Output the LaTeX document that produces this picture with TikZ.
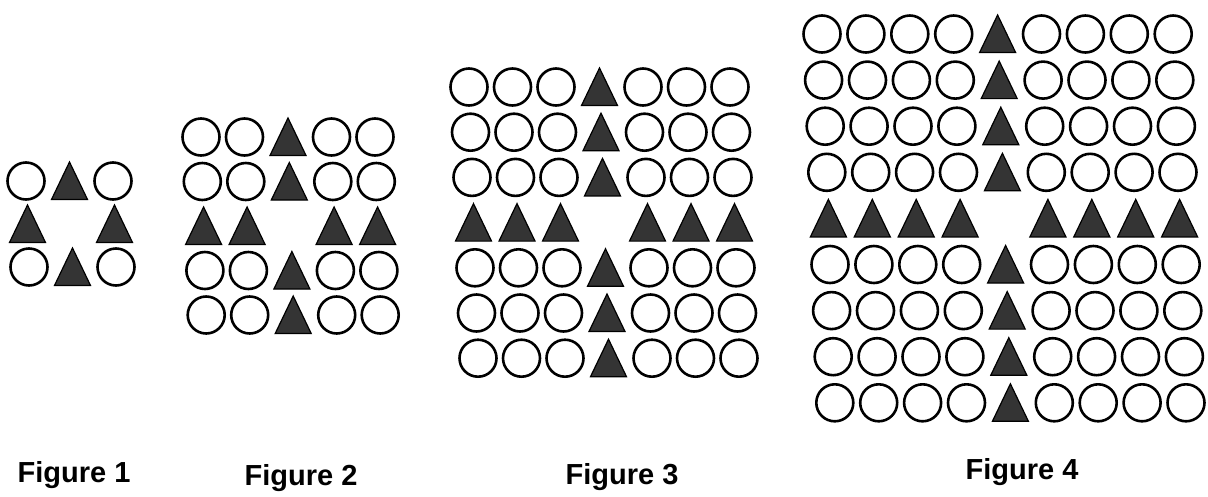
\documentclass[tikz,border=0pt]{standalone}
\usepackage{fontspec}
\setmainfont{Liberation Sans}
\definecolor{trigray}{RGB}{52,52,52}
\tikzset{
  ring/.style={draw=black, line width=2.6pt},
  tri/.style={draw=black, line width=1.2pt, fill=trigray, line join=miter},
  figlabel/.style={font=\bfseries\fontsize{29}{34}\selectfont, anchor=base, inner sep=0pt}
}
% #1 half size n, #2 x0, #3 y0, #4 dx, #5 dy, #6 row shift
\newcommand\patgrid[6]{%
  \pgfmathtruncatemacro\lastidx{2*#1}%
  \foreach \j in {0,...,\lastidx}{%
    \foreach \i in {0,...,\lastidx}{%
      \pgfmathsetmacro\cx{#2+#4*\i+#6*\j}%
      \pgfmathsetmacro\cy{#3+#5*\j}%
      \pgfmathtruncatemacro\kind{(\i==#1)+(\j==#1)}%
      \ifcase\kind
        \draw[ring] (\cx,\cy) circle[radius=18.5pt];
      \or
        \draw[tri] ({\cx-18},{\cy+18.5}) -- ({\cx+18},{\cy+18.5}) -- (\cx,{\cy-19}) -- cycle;
      \or
      \fi
    }%
  }%
}
\begin{document}
\begin{tikzpicture}[x=1pt,y=-1pt]
  \fill[white] (0,0) rectangle (1208,496);
  \useasboundingbox (0,0) rectangle (1208,496);
  \patgrid{1}{26}{181}{43.5}{43}{1.5}
  \patgrid{2}{201}{137}{43.5}{44.5}{1.3}
  \patgrid{3}{469}{87}{43.5}{45.2}{1.5}
  \patgrid{4}{822}{34}{43.9}{46.1}{1.6}
  \node[figlabel] (f1) at (74,482) {Figure 1};
  \node[figlabel] (f2) at (301,485) {Figure 2};
  \node[figlabel] (f3) at (622,484) {Figure 3};
  \node[figlabel] (f4) at (1022,479) {Figure 4};
\end{tikzpicture}
\end{document}
